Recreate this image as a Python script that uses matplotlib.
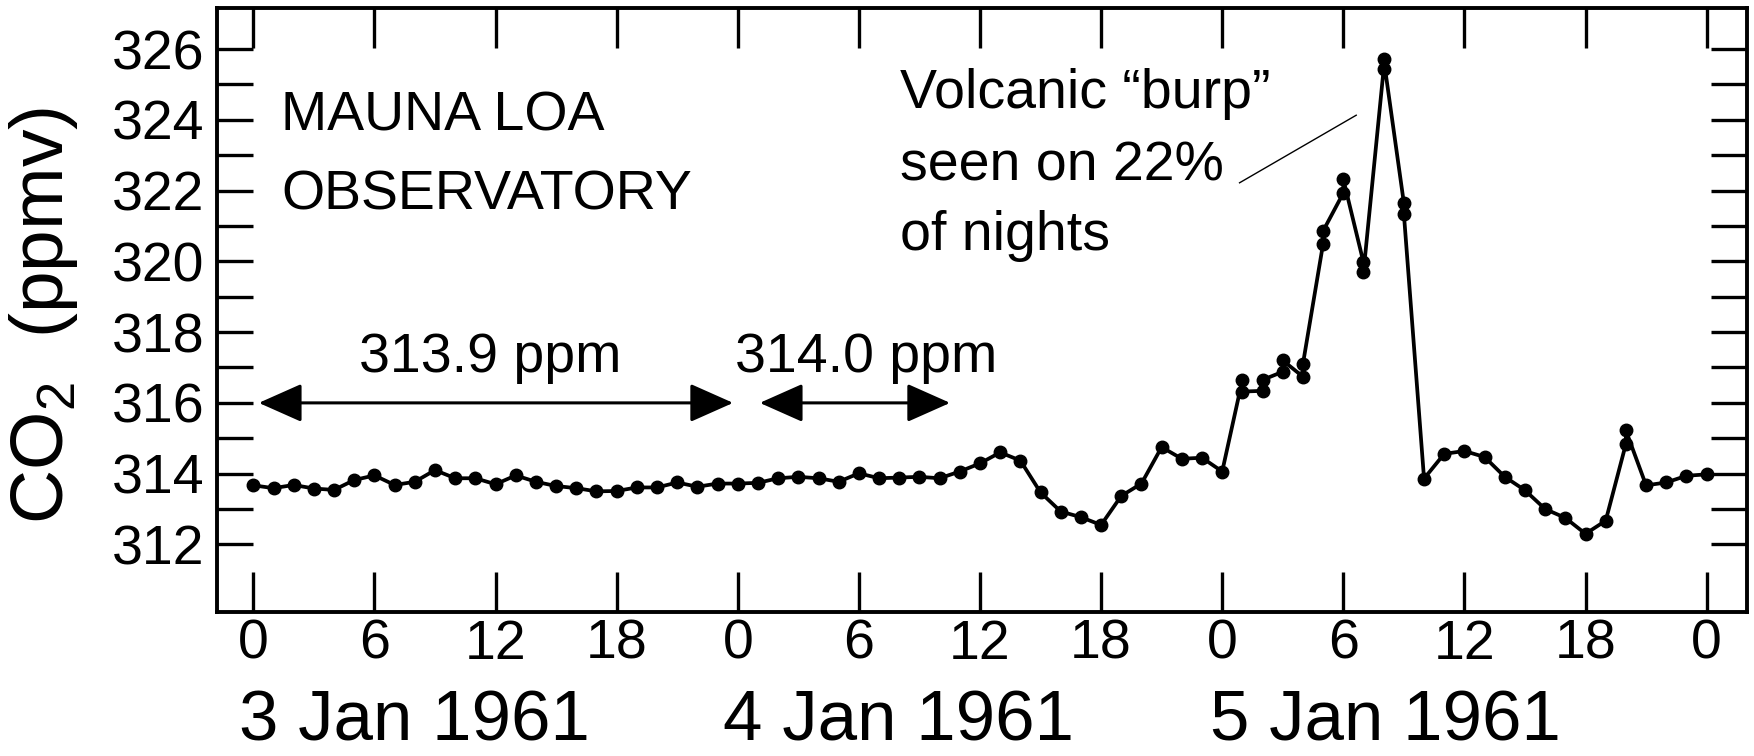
import numpy as np
import matplotlib.pyplot as plt

plt.rcParams['font.family'] = ['Liberation Sans', 'DejaVu Sans']
plt.rcParams['mathtext.fontset'] = 'custom'
plt.rcParams['mathtext.rm'] = 'Liberation Sans'

# hourly CO2 at Mauna Loa, 3-5 Jan 1961 (hours from 0h on 3 Jan)
# doubled hours = two readings plotted at the same hour
hours = [0, 1, 2, 3, 4, 5, 6, 7, 8, 9, 10, 11, 12, 13, 14, 15, 16, 17,
         18, 19, 20, 21, 22, 23, 24, 25, 26, 27, 28, 29, 30, 31, 32, 33, 34, 35,
         36, 37, 38, 39, 40, 41, 42, 43, 44, 45, 46, 47, 48,
         49, 49, 50, 50, 51, 51, 52, 52, 53, 53, 54, 54, 55, 55, 56, 56, 57, 57,
         58, 59, 60, 61, 62, 63, 64, 65, 66, 67, 68, 68, 69, 70, 71, 72]
co2_ppm = [313.67, 313.59, 313.68, 313.58, 313.54, 313.82, 313.95, 313.68, 313.77,
           314.10, 313.87, 313.87, 313.70, 313.95, 313.77, 313.65, 313.59, 313.50,
           313.51, 313.61, 313.61, 313.75, 313.63, 313.72, 313.72, 313.74, 313.87,
           313.91, 313.87, 313.77, 314.01, 313.87, 313.89, 313.91, 313.87, 314.06,
           314.29, 314.60, 314.37, 313.47, 312.93, 312.77, 312.55, 313.37, 313.72,
           314.75, 314.42, 314.45, 314.06,
           316.65, 316.32, 316.34, 316.65, 316.88, 317.20, 316.74, 317.10,
           320.50, 320.86, 321.93, 322.32, 319.97, 319.69, 325.44, 325.72,
           321.65, 321.35,
           313.86, 314.56, 314.64, 314.47, 313.91, 313.53, 313.00, 312.75, 312.30,
           312.67, 314.84, 315.22, 313.67, 313.75, 313.94, 313.98]

x_ticks = [0, 6, 12, 18, 24, 30, 36, 42, 48, 54, 60, 66, 72]
x_tick_labels = ['0', '6', '12', '18', '0', '6', '12', '18', '0', '6', '12', '18', '0']
y_major = [312, 314, 316, 318, 320, 322, 324, 326]
y_minor = [313, 315, 317, 319, 321, 323, 325]

day_labels = ['3 Jan 1961', '4 Jan 1961', '5 Jan 1961']
day_centres = [8.0, 31.95, 56.1]

mean_labels = ['313.9 ppm', '314.0 ppm']
mean_spans = [(0.27, 23.77), (25.09, 34.52)]
mean_label_x = [11.75, 30.35]

fig = plt.figure(figsize=(17.54, 7.56), dpi=100)
ax = fig.add_axes([217 / 1754, 1 - 612 / 756, (1747 - 217) / 1754, (612 - 8) / 756])

ax.plot(hours, co2_ppm, color='black', lw=2.7, marker='o', ms=9, zorder=3)

ax.set_xlim(-1.8, 74.0)
ax.set_ylim(310.09, 327.16)

ax.set_xticks(x_ticks)
ax.set_xticklabels(x_tick_labels)
ax.set_yticks(y_major)
ax.set_yticks(y_minor, minor=True)

ax.tick_params(axis='both', which='both', direction='in', top=True, right=True,
               width=2.4, color='black')
ax.tick_params(axis='x', which='major', length=29, labelsize=40, pad=5)
ax.tick_params(axis='y', which='both', length=26, labelsize=40, pad=9)
for sp in ax.spines.values():
    sp.set_linewidth(2.8)

# y label
fig.text(44 / 1754, 1 - 316 / 756, 'CO$_2$  (ppmv)', rotation=90,
         ha='center', va='center', fontsize=54)

# day labels under the hour ticks
for lbl, xc in zip(day_labels, day_centres):
    ax.text(xc, 306.45, lbl, ha='center', va='baseline', fontsize=51, clip_on=False)

# site name
ax.text(1.37, 323.71, 'MAUNA LOA', fontsize=40, va='baseline')
ax.text(1.37, 321.47, 'OBSERVATORY', fontsize=40, va='baseline')

# volcanic note and leader line
ax.text(32.04, 324.33, 'Volcanic \u201cburp\u201d', fontsize=40, va='baseline')
ax.text(32.04, 322.29, 'seen on 22%', fontsize=40, va='baseline')
ax.text(32.04, 320.31, 'of nights', fontsize=40, va='baseline')
ax.plot([48.86, 54.64], [322.22, 324.13], color='black', lw=1.0)

# mean arrows
for lbl, (x0, x1), xt in zip(mean_labels, mean_spans, mean_label_x):
    ax.annotate('', xy=(x1, 316.0), xytext=(x0, 316.0),
                arrowprops=dict(arrowstyle='<|-|>,head_length=0.45,head_width=0.2',
                                mutation_scale=60, lw=2.2, color='black',
                                shrinkA=0, shrinkB=0))
    ax.text(xt, 316.86, lbl, ha='center', va='baseline', fontsize=40)

fig.savefig('out.png', dpi=100)
